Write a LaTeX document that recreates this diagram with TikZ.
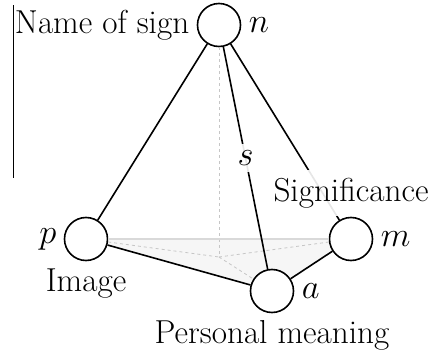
\documentclass[tikz,border=0pt]{standalone}
\usepackage{amsmath}
\usepackage{tikz}
\usetikzlibrary{positioning, backgrounds}
\def\nodeSize{21.5pt}
\def\labelFont{\fontsize{16.6}{19}\selectfont}

\begin{document}
\begin{tikzpicture}[
    x=0.5pt, y=-0.5pt,
    thick,
    every node/.style={font=\labelFont},
    vertex/.style={circle, draw, fill=white, minimum size=\nodeSize, inner sep=0pt},
    hidden/.style={gray!45, thin, dash pattern=on 1.5pt off 1.5pt},
    veil/.style={fill=white, fill opacity=0.9, text opacity=1}
]
\useasboundingbox (0,0) rectangle (430,354);

% corners of the tetrahedron
\node[vertex] (n) at (219,25) {};
\node[vertex] (p) at (86,239) {};
\node[vertex] (m) at (351,239) {};
\node[vertex] (a) at (272,291) {};
\coordinate (c) at (219,257);

% base face
\begin{scope}[on background layer]
\fill[gray!7] (p.center) -- (m.center) -- (a.center) -- cycle;
\end{scope}

% hidden edges
\draw[hidden] (n) -- (c);
\draw[hidden] (p) -- (c);
\draw[hidden] (m) -- (c);
\draw[hidden] (c) -- (a);
\draw[gray!30, semithick] (p) -- (m);

% visible edges
\draw (n) -- (p);
\draw (n) -- node[veil] (s) {$s$} (a);
\draw (n) -- (m);
\draw (p) -- (a);
\draw (a) -- (m);

% labels
\node[left=0pt of n] (nName) {Name of sign};
\node[right=0pt of n] (nSym) {$n$};
\node[left=0pt of p] (pSym) {$p$};
\node[below=0pt of p] (pName) {Image};
\node[right=0pt of m] (mSym) {$m$};
\node[veil, above=0pt of m, inner ysep=4pt] (mName) {Significance};
\node[right=0pt of a] (aSym) {$a$};
\node[below=0pt of a] (aName) {Personal meaning};

\draw[thin] (13,5) -- (13,178);
\end{tikzpicture}
\end{document}
